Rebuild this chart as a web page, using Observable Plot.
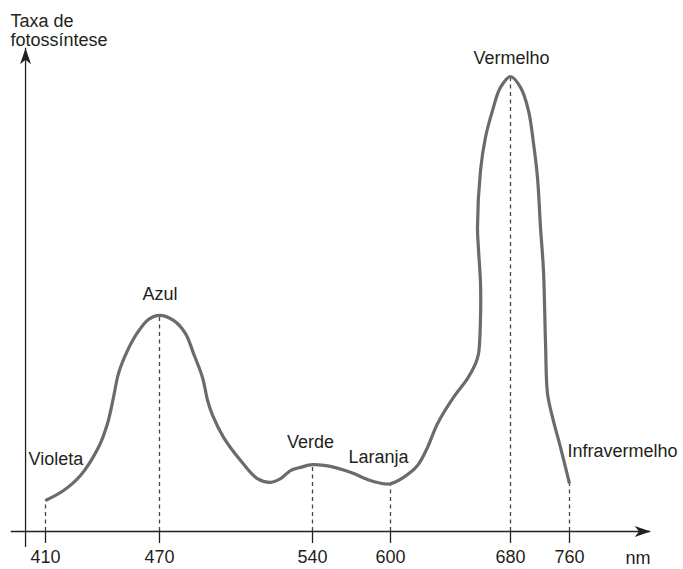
<!DOCTYPE html>
<html><head><meta charset="utf-8">
<script src="https://cdn.jsdelivr.net/npm/d3@7"></script>
<script src="https://cdn.jsdelivr.net/npm/@observablehq/plot@0.6"></script>
<style>body{margin:0;background:#fff}</style>
</head><body><div id="chart"></div>
<script>
// Wavelength ticks (nm)
const tickNm = [410, 470, 540, 600, 680, 760];
// Photosynthesis-rate curve (arbitrary units, peak = 100)
const curveNm = [410, 419.5, 428.4, 437.9, 442.6, 445.8, 448.4, 453.2, 458.4, 464.2, 470, 476.4, 481.9, 485.6, 489.7, 492.0, 494.3, 499.3, 507.1, 514.8, 520.8, 525.4, 529.9, 534.5, 540, 553.8, 569.2, 584.6, 594.6, 600, 608.7, 618.0, 624.7, 631.3, 642.0, 651.3, 656.7, 658.7, 660.0, 660.0, 658.7, 658.0, 660.0, 663.3, 668.0, 673.3, 680, 693.6, 704.4, 711.2, 716.6, 720.7, 724.7, 727.5, 730.2, 737.0, 747.8, 760];
const curveRate = [6.8, 9.0, 12.3, 18.5, 23.7, 29.5, 34.7, 39.8, 43.7, 46.6, 47.5, 46.4, 43.5, 39.1, 33.8, 28.8, 25.5, 20.7, 15.6, 11.6, 10.8, 11.6, 13.4, 14.1, 14.7, 14.3, 13.0, 11.2, 10.5, 10.5, 11.9, 14.5, 18.5, 23.7, 29.5, 33.6, 36.9, 39.1, 47.0, 54.5, 61.8, 66.8, 79.3, 86.6, 92.5, 97.6, 100, 97.6, 92.5, 85.3, 77.8, 66.8, 57.4, 41.3, 30.3, 25.1, 18.5, 10.5];
// Colour band names and their wavelengths
const bandNames = ["Violeta", "Azul", "Verde", "Laranja", "Vermelho", "Infravermelho"];
const bandNm = [410, 470, 540, 600, 680, 760];
// Axis extents
const xAxisNm = [392, 870];
const yAxisNm = 399.5;
const yAxisRate = [-3.5, 106.2];
const unitLabel = "nm";
const yLabel = "Taxa de\nfotossíntese";

const curve = curveNm.map((x, i) => ({x, y: curveRate[i]}));
const rateAt = nm => curve.find(d => d.x === nm).y;
const bands = bandNames.map((name, i) => ({name, x: bandNm[i], y: rateAt(bandNm[i])}));
const guides = tickNm.map(x => ({x, y: rateAt(x)}));

const labelStyle = {
  "Violeta": {dx: -17, dy: -36, textAnchor: "start"},
  "Azul": {dx: 0.5, dy: -15, textAnchor: "middle"},
  "Verde": {dx: -2, dy: -17, textAnchor: "middle"},
  "Laranja": {dx: -12, dy: -21, textAnchor: "middle"},
  "Vermelho": {dx: 1, dy: -13, textAnchor: "middle"},
  "Infravermelho": {dx: -2, dy: -27, textAnchor: "start"}
};

const stealth = {draw(ctx) { ctx.moveTo(0, 0); ctx.lineTo(5.5, 16); ctx.lineTo(0, 11.5); ctx.lineTo(-5.5, 16); ctx.closePath(); }};
const heads = [{x: xAxisNm[1], y: 0, rot: 90}, {x: yAxisNm, y: yAxisRate[1], rot: 0}];

const ink = "#231f20";
const font = "'Liberation Sans', Arial, Helvetica, sans-serif";

const chart = Plot.plot({
  width: 683, height: 569,
  marginTop: 0, marginLeft: 0, marginRight: 33, marginBottom: 38,
  style: {fontFamily: font, fontSize: "18px", color: ink, background: "#fff"},
  x: {type: "linear", domain: tickNm, range: [45, 159, 312, 390, 510, 569]},
  y: {domain: [0, 100], range: [531, 76], axis: null},
  marks: [
    Plot.ruleX(guides, {x: "x", y1: 0, y2: "y", stroke: "#444", strokeWidth: 1.3, strokeDasharray: "4,3.5"}),
    Plot.ruleY([0], {x1: xAxisNm[0], x2: xAxisNm[1], stroke: ink, strokeWidth: 1.3}),
    Plot.ruleX([yAxisNm], {y1: yAxisRate[0], y2: yAxisRate[1], stroke: ink, strokeWidth: 1.3}),
    Plot.dot(heads, {x: "x", y: "y", rotate: "rot", symbol: stealth, fill: ink, stroke: "none"}),
    Plot.axisX({ticks: tickNm, tickSize: 12, tickPadding: 7, label: null, fontSize: 18, stroke: ink, strokeWidth: 1.3, fill: ink, tickFormat: d => String(d)}),
    Plot.line(curve, {x: "x", y: "y", curve: "catmull-rom", stroke: "#6b6b6b", strokeWidth: 3.2, strokeLinejoin: "round", strokeLinecap: "butt"}),
    ...bands.map(b => Plot.text([b], {x: "x", y: "y", text: "name", lineAnchor: "bottom", fontSize: 18, fill: ink, ...labelStyle[b.name]})),
    Plot.text([yLabel], {frameAnchor: "top-left", text: d => d, dx: 10, dy: 12, lineAnchor: "top", textAnchor: "start", lineHeight: 1.1, fontSize: 18, fill: ink}),
    Plot.text([unitLabel], {frameAnchor: "bottom-right", text: d => d, dy: 32, lineAnchor: "bottom", textAnchor: "end", fontSize: 18, fill: ink})
  ]
});
document.getElementById("chart").appendChild(chart);
</script>
</body></html>
